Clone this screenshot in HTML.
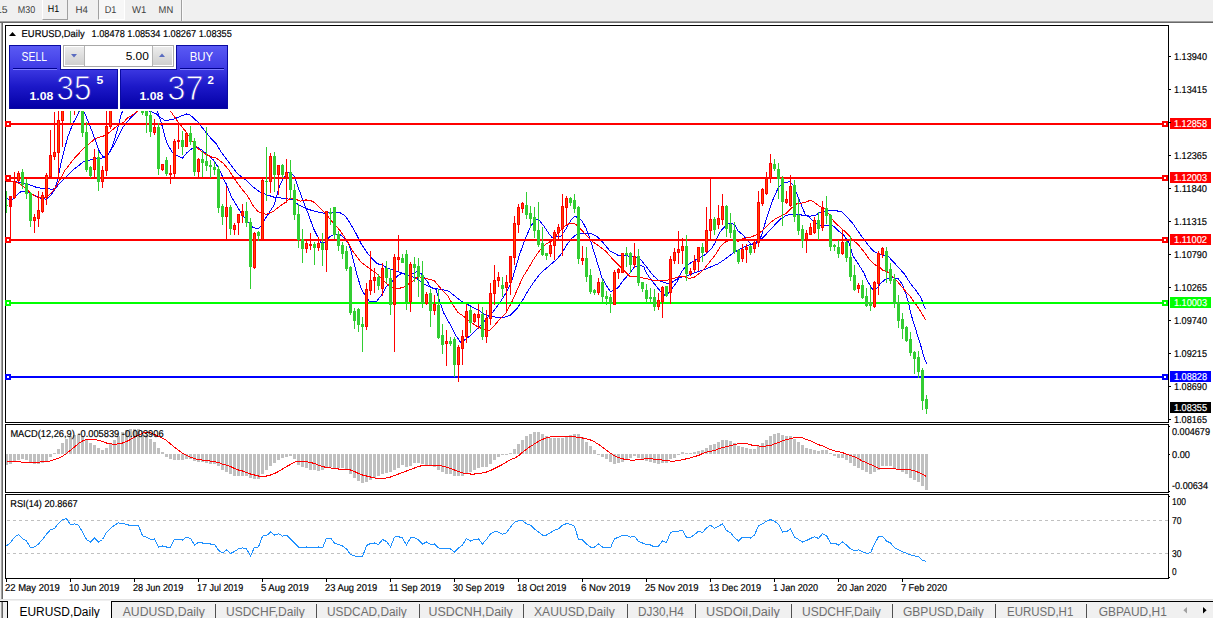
<!DOCTYPE html>
<html><head><meta charset="utf-8"><title>EURUSD,Daily</title>
<style>
html,body{margin:0;padding:0;background:#fff;}
body{width:1213px;height:618px;overflow:hidden;position:relative;font-family:"Liberation Sans",sans-serif;}
.abs{position:absolute;}
.pb{box-sizing:border-box;border-style:solid;border-color:#0a0aa0;}
svg text{font-family:"Liberation Sans",sans-serif;}
.s{font-size:10px;stroke:#000;stroke-width:.18px;}
.w{stroke:#fff;}
.tb{font-size:10px;fill:#404040;stroke:none;}
.tab{font-size:12px;fill:#6e6e6e;stroke:none;}
</style></head>
<body>
<!-- toolbar -->
<div class="abs" style="left:0;top:0;width:1213px;height:21px;background:#f0f0f0;"></div>
<div class="abs" style="left:42px;top:0;width:24px;height:19px;background:#f0f0f0;border-left:1px solid #fff;border-right:1px solid #a0a0a0;border-bottom:1px solid #a0a0a0;"></div>
<div class="abs" style="left:98px;top:0;width:25px;height:19px;background:#f7f7f7;border-left:1px solid #a0a0a0;border-right:1px solid #fff;border-bottom:1px solid #fff;"></div>
<div class="abs" style="left:181px;top:0;width:1px;height:21px;background:#a0a0a0;"></div><div class="abs" style="left:182px;top:0;width:1px;height:21px;background:#fafafa;"></div>
<div class="abs" style="left:0;top:21px;width:1213px;height:1px;background:#a0a0a0;"></div>
<div class="abs" style="left:0;top:22px;width:1213px;height:1px;background:#696969;"></div>
<!-- left edge -->
<div class="abs" style="left:0;top:23px;width:1px;height:577px;background:#f0f0f0;"></div>
<div class="abs" style="left:1px;top:23px;width:1px;height:577px;background:#a0a0a0;"></div>
<div class="abs" style="left:2px;top:23px;width:1px;height:577px;background:#696969;"></div>
<!-- bottom tab bar -->
<div class="abs" style="left:0;top:599px;width:1213px;height:1px;background:#e3e3e3;"></div>
<div class="abs" style="left:0;top:600px;width:1213px;height:18px;background:#f0f0f0;"></div>
<div class="abs" style="left:0;top:601px;width:1213px;height:1px;background:#000;"></div>
<div class="abs" style="left:7px;top:601px;width:103px;height:17px;background:#fff;border-left:1px solid #000;border-right:1px solid #000;"></div>
<div class="abs" style="left:1px;top:602px;width:1px;height:16px;background:#a0a0a0;"></div>
<div class="abs" style="left:2px;top:602px;width:1px;height:16px;background:#696969;"></div>

<svg class="abs" style="left:0;top:0" width="1213" height="618" viewBox="0 0 1213 618">
<g shape-rendering="crispEdges">
<polyline points="5.3,182.0 13.3,181.3 19.9,182.6 25.2,184.0 30.5,185.2 37.2,187.6 43.8,188.6 53.0,189.2 55.7,187.9 60.0,183.0 65.0,178.3 74.3,169.0 83.6,161.7 94.2,159.0 104.8,157.7 110.1,151.8 116.7,139.8 123.4,126.6 130.0,118.6 136.6,112.0 142.0,107.0 146.0,108.0 149.9,111.3 156.5,114.0 160.0,117.3 165.3,120.6 173.3,119.3 179.9,116.6 186.5,114.0 190.5,115.3 198.5,122.6 202.4,127.9 210.4,137.8 215.7,143.1 221.0,151.8 229.0,162.4 236.9,173.0 242.2,177.5 246.2,180.0 252.8,186.6 259.5,191.9 266.1,194.6 274.1,197.2 284.7,198.5 292.6,199.9 297.9,204.5 305.9,208.5 312.5,210.7 320.0,212.5 324.0,213.2 331.9,212.6 339.9,212.6 345.2,215.9 350.5,223.9 355.8,233.1 361.1,243.7 366.4,251.7 371.7,258.3 377.0,263.6 382.3,265.0 387.6,268.3 393.1,270.0 401.0,272.7 409.0,275.3 416.9,278.6 424.9,284.6 432.8,288.6 440.8,289.2 448.8,291.2 455.4,296.5 462.0,301.8 470.0,305.8 477.9,309.8 485.9,315.1 492.5,316.4 497.3,317.6 503.9,317.6 510.5,315.0 517.2,308.3 522.5,300.4 527.8,291.1 533.1,283.1 538.4,275.8 543.7,270.5 549.0,265.9 555.6,260.4 560.9,254.5 566.2,245.8 571.5,238.4 576.8,234.4 583.5,233.1 590.1,233.1 596.7,236.4 603.4,243.0 610.0,251.0 618.0,255.2 624.6,255.8 631.2,256.2 637.8,257.8 642.0,261.0 646.6,267.1 653.3,275.7 658.6,280.4 663.9,282.4 668.5,283.7 673.2,281.7 678.5,277.7 685.1,276.4 690.4,274.4 695.7,272.4 702.3,270.4 710.3,267.1 718.2,263.8 724.9,259.2 732.8,253.2 740.8,248.5 748.8,245.2 756.7,241.9 762.0,238.6 767.3,233.0 772.0,228.0 775.3,224.3 780.6,219.0 785.9,215.6 791.2,214.3 796.5,214.6 802.6,215.1 809.3,216.1 814.6,215.8 819.9,212.5 826.5,210.7 835.8,210.7 841.8,211.8 847.7,217.8 853.0,223.7 858.3,231.7 863.6,239.0 868.6,245.5 872.9,250.6 878.2,253.9 883.5,255.3 888.8,257.0 894.1,262.6 899.4,268.5 904.8,274.5 910.1,283.1 915.4,289.8 920.7,297.1 925.3,309.0" fill="none" stroke="#0000ff" stroke-width="1"/><polyline points="6.0,198.5 12.0,199.8 17.3,194.5 21.2,191.6 25.2,191.2 29.2,192.5 34.5,195.2 38.5,197.2 42.5,198.8 46.4,199.2 50.4,195.9 54.4,189.9 57.0,182.0 59.7,169.3 62.4,157.0 67.7,137.2 73.0,123.3 76.5,117.0 79.6,111.2 81.9,107.5 84.2,112.0 86.5,117.5 88.9,123.0 94.2,137.2 99.5,151.8 103.5,157.0 107.5,155.7 112.8,145.1 116.7,131.9 120.7,116.0 122.7,110.7 130.0,95.0 140.0,88.0 150.0,95.0 157.8,112.0 160.0,118.6 162.7,127.9 166.6,142.5 171.9,151.8 177.2,155.7 182.5,158.1 186.5,153.1 191.2,149.1 197.1,147.1 202.4,150.4 207.7,155.1 213.1,159.7 218.4,167.7 221.0,173.0 223.7,179.6 226.3,184.0 231.6,197.2 239.6,210.5 246.2,219.8 252.8,227.1 258.1,229.1 260.8,226.4 263.4,221.8 268.8,213.1 274.1,205.2 276.7,195.9 279.4,186.6 283.3,178.7 284.7,177.0 288.6,172.3 292.6,174.3 294.5,177.0 297.9,186.6 303.2,201.2 308.5,214.5 313.8,229.1 318.5,238.3 320.8,242.2 324.0,243.1 329.3,237.1 334.6,234.2 339.9,234.5 345.2,238.4 349.4,245.3 353.3,259.9 357.3,275.8 361.3,289.1 365.3,295.7 369.3,301.4 376.5,301.4 381.2,295.5 386.4,286.6 389.0,284.0 392.8,280.8 397.4,276.2 401.9,273.0 404.5,274.0 408.4,275.3 412.2,274.0 416.8,271.4 421.3,273.7 425.2,278.8 427.8,282.0 429.7,286.6 433.0,287.9 436.0,289.2 438.1,296.5 443.4,312.4 450.1,324.4 455.4,335.0 460.7,342.3 466.0,339.0 472.6,333.7 479.3,327.0 485.9,319.1 492.5,312.4 497.0,306.5 501.2,300.4 506.5,292.4 511.9,280.5 515.8,267.2 519.8,253.8 525.1,239.1 530.4,227.1 535.1,219.8 538.4,219.2 543.7,225.8 549.0,233.7 551.6,237.1 555.6,237.1 560.9,236.4 566.2,228.4 571.5,219.2 574.8,216.2 578.2,217.8 582.1,221.1 586.1,228.4 590.1,239.1 594.1,252.3 596.7,260.6 602.0,277.8 607.3,287.1 610.7,291.8 613.3,290.4 618.0,287.8 623.3,280.5 628.6,274.5 633.9,267.8 639.2,264.8 644.0,267.0 645.3,271.1 650.6,279.1 655.9,285.7 661.2,292.3 665.2,295.6 669.2,292.3 673.2,287.0 677.1,281.7 681.1,272.4 685.1,267.1 690.4,263.1 695.7,259.8 701.0,257.2 706.3,253.9 711.6,248.5 715.6,241.9 718.2,235.3 720.9,230.9 726.2,224.9 730.8,222.9 734.8,224.8 738.1,231.0 743.4,235.3 747.4,240.6 751.4,244.6 755.4,243.9 759.4,240.6 762.0,234.0 762.7,230.9 767.3,216.3 772.6,200.4 777.9,188.5 783.2,182.5 789.9,181.8 793.8,185.8 797.8,196.4 800.0,201.9 805.3,214.5 810.6,218.4 815.9,223.7 822.5,225.7 829.2,225.3 833.8,226.1 838.4,231.0 843.7,235.0 849.1,243.0 853.0,255.9 858.3,263.9 863.6,272.5 868.3,282.5 872.9,289.8 876.9,288.4 880.9,283.1 886.2,278.7 891.5,277.4 898.1,278.7 902.1,283.8 906.1,294.4 908.5,303.0 910.8,313.6 915.6,329.1 920.5,344.7 924.3,358.3 926.9,363.7" fill="none" stroke="#0000ff" stroke-width="1"/><polyline points="5.3,182.0 14.6,181.3 19.9,184.0 25.2,187.9 30.5,193.2 35.8,196.5 39.8,197.8 45.1,197.8 49.1,195.2 54.4,189.2 59.7,180.0 65.0,170.3 74.3,158.4 84.9,147.1 95.5,138.5 106.1,135.2 116.7,126.2 123.5,122.4 127.5,118.0 131.0,116.0 136.6,112.0 145.0,105.0 155.0,100.0 163.0,103.0 170.6,111.3 178.6,122.6 186.5,132.5 193.2,142.5 198.5,149.1 205.1,153.8 211.7,157.1 215.7,157.7 223.7,163.7 229.0,170.3 234.3,178.5 240.9,187.9 247.5,195.9 252.8,205.2 258.1,211.8 262.1,212.5 266.1,214.5 272.7,211.8 279.4,206.5 286.0,201.9 290.0,198.5 295.3,199.2 300.6,201.2 305.9,199.9 312.5,201.2 316.0,204.0 320.0,207.8 324.0,211.9 331.9,221.2 339.9,230.5 346.5,239.8 353.1,251.7 361.1,262.3 369.1,268.3 375.7,272.9 379.8,276.7 387.7,284.6 395.7,289.2 403.7,287.2 411.6,281.9 418.2,276.6 426.2,278.6 434.2,280.6 440.8,288.6 447.4,295.2 452.7,304.5 458.0,312.4 464.7,317.1 471.3,322.4 477.9,327.0 483.2,329.0 489.9,330.3 493.3,326.9 499.9,318.9 506.5,312.3 511.9,301.7 517.2,289.8 522.5,277.8 529.1,267.0 534.4,258.0 539.7,250.4 546.3,243.7 551.6,241.0 556.9,234.4 563.6,227.1 568.9,223.8 574.2,223.1 579.5,227.8 586.1,235.1 592.8,241.7 599.4,246.3 606.0,251.5 612.6,259.1 619.3,265.9 624.6,271.2 629.9,276.2 637.8,276.5 642.0,277.8 648.0,279.1 655.9,281.0 663.9,280.4 670.5,279.7 677.1,277.1 683.8,276.4 689.1,278.4 694.4,277.1 699.7,273.1 705.0,267.8 710.3,261.1 715.6,254.5 720.9,245.9 726.2,241.3 732.8,239.9 738.1,241.3 743.4,238.6 750.1,237.3 755.4,235.3 760.7,232.0 765.0,228.2 770.0,222.9 775.3,219.0 780.6,216.3 785.9,213.7 791.2,208.4 796.5,204.0 801.3,203.2 806.6,201.9 810.6,200.1 814.6,202.5 819.9,206.5 825.2,208.5 829.2,214.5 833.1,220.4 838.4,225.7 843.7,230.4 849.1,235.7 853.0,240.3 857.3,243.5 863.6,251.3 870.3,260.6 875.6,265.2 878.2,265.9 882.2,269.9 888.8,272.5 894.1,277.8 899.4,283.8 904.8,290.4 910.1,296.4 915.4,303.7 920.7,311.6 925.7,320.3" fill="none" stroke="#ff0000" stroke-width="1"/>
<rect x="6" y="123" width="1162" height="2" fill="#ff0000"/><rect x="1170" y="118" width="41" height="11" fill="#ff0000"/><rect x="6" y="177" width="1162" height="2" fill="#ff0000"/><rect x="1170" y="172" width="41" height="11" fill="#ff0000"/><rect x="6" y="239" width="1162" height="2" fill="#ff0000"/><rect x="1170" y="234" width="41" height="11" fill="#ff0000"/><rect x="6" y="302" width="1162" height="2" fill="#00ff00"/><rect x="1170" y="297" width="41" height="11" fill="#00ff00"/><rect x="6" y="376" width="1162" height="2" fill="#0000ff"/><rect x="1170" y="371" width="41" height="11" fill="#0000ff"/><rect x="1170" y="402" width="41" height="11" fill="#000"/>
<rect x="6" y="191" width="1" height="22" fill="#32cd32"/><rect x="5" y="205" width="3" height="1" fill="#32cd32"/><rect x="10" y="196" width="1" height="11" fill="#ff0000"/><rect x="9" y="196" width="3" height="11" fill="#ff0000"/><rect x="10" y="197" width="1" height="9" fill="#ff4500"/><rect x="14" y="172" width="1" height="27" fill="#ff0000"/><rect x="13" y="181" width="3" height="17" fill="#ff0000"/><rect x="14" y="182" width="1" height="15" fill="#ff4500"/><rect x="18" y="171" width="1" height="11" fill="#ff0000"/><rect x="17" y="173" width="3" height="8" fill="#ff0000"/><rect x="18" y="174" width="1" height="6" fill="#ff4500"/><rect x="22" y="169" width="1" height="20" fill="#32cd32"/><rect x="21" y="172" width="3" height="13" fill="#32cd32"/><rect x="26" y="179" width="1" height="20" fill="#32cd32"/><rect x="25" y="183" width="3" height="11" fill="#32cd32"/><rect x="30" y="192" width="1" height="35" fill="#32cd32"/><rect x="29" y="193" width="3" height="28" fill="#32cd32"/><rect x="34" y="214" width="1" height="19" fill="#ff0000"/><rect x="33" y="217" width="3" height="4" fill="#ff0000"/><rect x="34" y="218" width="1" height="2" fill="#ff4500"/><rect x="38" y="191" width="1" height="36" fill="#ff0000"/><rect x="37" y="210" width="3" height="9" fill="#ff0000"/><rect x="38" y="211" width="1" height="7" fill="#ff4500"/><rect x="42" y="192" width="1" height="21" fill="#ff0000"/><rect x="41" y="195" width="3" height="17" fill="#ff0000"/><rect x="42" y="196" width="1" height="15" fill="#ff4500"/><rect x="46" y="173" width="1" height="32" fill="#ff0000"/><rect x="45" y="175" width="3" height="23" fill="#ff0000"/><rect x="46" y="176" width="1" height="21" fill="#ff4500"/><rect x="50" y="130" width="1" height="48" fill="#ff0000"/><rect x="49" y="155" width="3" height="22" fill="#ff0000"/><rect x="50" y="156" width="1" height="20" fill="#ff4500"/><rect x="54" y="112" width="1" height="48" fill="#ff0000"/><rect x="53" y="152" width="3" height="5" fill="#ff0000"/><rect x="54" y="153" width="1" height="3" fill="#ff4500"/><rect x="58" y="95" width="1" height="84" fill="#ff0000"/><rect x="57" y="120" width="3" height="33" fill="#ff0000"/><rect x="58" y="121" width="1" height="31" fill="#ff4500"/><rect x="62" y="90" width="1" height="57" fill="#ff0000"/><rect x="61" y="95" width="3" height="26" fill="#ff0000"/><rect x="62" y="96" width="1" height="24" fill="#ff4500"/><rect x="66" y="70" width="1" height="31" fill="#ff0000"/><rect x="65" y="75" width="3" height="21" fill="#ff0000"/><rect x="66" y="76" width="1" height="19" fill="#ff4500"/><rect x="70" y="80" width="1" height="43" fill="#32cd32"/><rect x="69" y="85" width="3" height="16" fill="#32cd32"/><rect x="74" y="85" width="1" height="30" fill="#ff0000"/><rect x="73" y="88" width="3" height="17" fill="#ff0000"/><rect x="74" y="89" width="1" height="15" fill="#ff4500"/><rect x="78" y="80" width="1" height="32" fill="#32cd32"/><rect x="77" y="84" width="3" height="25" fill="#32cd32"/><rect x="82" y="90" width="1" height="47" fill="#32cd32"/><rect x="81" y="95" width="3" height="38" fill="#32cd32"/><rect x="86" y="122" width="1" height="50" fill="#32cd32"/><rect x="85" y="132" width="3" height="38" fill="#32cd32"/><rect x="90" y="166" width="1" height="12" fill="#32cd32"/><rect x="89" y="167" width="3" height="9" fill="#32cd32"/><rect x="94" y="149" width="1" height="29" fill="#ff0000"/><rect x="93" y="157" width="3" height="13" fill="#ff0000"/><rect x="94" y="158" width="1" height="11" fill="#ff4500"/><rect x="98" y="151" width="1" height="40" fill="#32cd32"/><rect x="97" y="157" width="3" height="25" fill="#32cd32"/><rect x="102" y="166" width="1" height="22" fill="#ff0000"/><rect x="101" y="170" width="3" height="12" fill="#ff0000"/><rect x="102" y="171" width="1" height="10" fill="#ff4500"/><rect x="106" y="95" width="1" height="81" fill="#ff0000"/><rect x="105" y="126" width="3" height="45" fill="#ff0000"/><rect x="106" y="127" width="1" height="43" fill="#ff4500"/><rect x="110" y="90" width="1" height="39" fill="#ff0000"/><rect x="109" y="95" width="3" height="32" fill="#ff0000"/><rect x="110" y="96" width="1" height="30" fill="#ff4500"/><rect x="114" y="70" width="1" height="31" fill="#ff0000"/><rect x="113" y="75" width="3" height="21" fill="#ff0000"/><rect x="114" y="76" width="1" height="19" fill="#ff4500"/><rect x="118" y="60" width="1" height="31" fill="#ff0000"/><rect x="117" y="65" width="3" height="16" fill="#ff0000"/><rect x="118" y="66" width="1" height="14" fill="#ff4500"/><rect x="122" y="60" width="1" height="31" fill="#32cd32"/><rect x="121" y="65" width="3" height="21" fill="#32cd32"/><rect x="126" y="60" width="1" height="36" fill="#ff0000"/><rect x="125" y="70" width="3" height="19" fill="#ff0000"/><rect x="126" y="71" width="1" height="17" fill="#ff4500"/><rect x="130" y="65" width="1" height="34" fill="#32cd32"/><rect x="129" y="70" width="3" height="21" fill="#32cd32"/><rect x="134" y="70" width="1" height="31" fill="#32cd32"/><rect x="133" y="80" width="3" height="16" fill="#32cd32"/><rect x="138" y="75" width="1" height="30" fill="#ff0000"/><rect x="137" y="80" width="3" height="21" fill="#ff0000"/><rect x="138" y="81" width="1" height="19" fill="#ff4500"/><rect x="142" y="90" width="1" height="25" fill="#32cd32"/><rect x="141" y="95" width="3" height="18" fill="#32cd32"/><rect x="146" y="92" width="1" height="41" fill="#32cd32"/><rect x="145" y="95" width="3" height="21" fill="#32cd32"/><rect x="150" y="95" width="1" height="42" fill="#32cd32"/><rect x="149" y="115" width="3" height="17" fill="#32cd32"/><rect x="154" y="119" width="1" height="16" fill="#ff0000"/><rect x="153" y="127" width="3" height="6" fill="#ff0000"/><rect x="154" y="128" width="1" height="4" fill="#ff4500"/><rect x="158" y="123" width="1" height="52" fill="#32cd32"/><rect x="157" y="127" width="3" height="42" fill="#32cd32"/><rect x="162" y="164" width="1" height="7" fill="#ff0000"/><rect x="161" y="164" width="3" height="6" fill="#ff0000"/><rect x="162" y="165" width="1" height="4" fill="#ff4500"/><rect x="166" y="157" width="1" height="19" fill="#32cd32"/><rect x="165" y="160" width="3" height="14" fill="#32cd32"/><rect x="170" y="165" width="1" height="19" fill="#ff0000"/><rect x="169" y="173" width="3" height="2" fill="#ff0000"/><rect x="174" y="139" width="1" height="39" fill="#ff0000"/><rect x="173" y="141" width="3" height="33" fill="#ff0000"/><rect x="174" y="142" width="1" height="31" fill="#ff4500"/><rect x="178" y="123" width="1" height="26" fill="#ff0000"/><rect x="177" y="140" width="3" height="2" fill="#ff0000"/><rect x="182" y="131" width="1" height="24" fill="#32cd32"/><rect x="181" y="140" width="3" height="7" fill="#32cd32"/><rect x="186" y="132" width="1" height="15" fill="#ff0000"/><rect x="185" y="133" width="3" height="14" fill="#ff0000"/><rect x="186" y="134" width="1" height="12" fill="#ff4500"/><rect x="190" y="126" width="1" height="19" fill="#32cd32"/><rect x="189" y="133" width="3" height="9" fill="#32cd32"/><rect x="194" y="138" width="1" height="38" fill="#32cd32"/><rect x="193" y="141" width="3" height="31" fill="#32cd32"/><rect x="198" y="158" width="1" height="20" fill="#ff0000"/><rect x="197" y="159" width="3" height="13" fill="#ff0000"/><rect x="198" y="160" width="1" height="11" fill="#ff4500"/><rect x="202" y="151" width="1" height="26" fill="#32cd32"/><rect x="201" y="159" width="3" height="4" fill="#32cd32"/><rect x="206" y="127" width="1" height="44" fill="#32cd32"/><rect x="205" y="161" width="3" height="5" fill="#32cd32"/><rect x="210" y="160" width="1" height="18" fill="#32cd32"/><rect x="209" y="165" width="3" height="2" fill="#32cd32"/><rect x="214" y="162" width="1" height="13" fill="#32cd32"/><rect x="213" y="167" width="3" height="3" fill="#32cd32"/><rect x="218" y="166" width="1" height="47" fill="#32cd32"/><rect x="217" y="169" width="3" height="39" fill="#32cd32"/><rect x="222" y="204" width="1" height="21" fill="#32cd32"/><rect x="221" y="206" width="3" height="11" fill="#32cd32"/><rect x="226" y="186" width="1" height="54" fill="#ff0000"/><rect x="225" y="207" width="3" height="10" fill="#ff0000"/><rect x="226" y="208" width="1" height="8" fill="#ff4500"/><rect x="230" y="205" width="1" height="30" fill="#32cd32"/><rect x="229" y="207" width="3" height="22" fill="#32cd32"/><rect x="234" y="223" width="1" height="12" fill="#ff0000"/><rect x="233" y="225" width="3" height="5" fill="#ff0000"/><rect x="234" y="226" width="1" height="3" fill="#ff4500"/><rect x="238" y="214" width="1" height="21" fill="#ff0000"/><rect x="237" y="214" width="3" height="9" fill="#ff0000"/><rect x="238" y="215" width="1" height="7" fill="#ff4500"/><rect x="242" y="204" width="1" height="19" fill="#ff0000"/><rect x="241" y="211" width="3" height="5" fill="#ff0000"/><rect x="242" y="212" width="1" height="3" fill="#ff4500"/><rect x="246" y="202" width="1" height="25" fill="#32cd32"/><rect x="245" y="211" width="3" height="12" fill="#32cd32"/><rect x="250" y="218" width="1" height="71" fill="#32cd32"/><rect x="249" y="222" width="3" height="45" fill="#32cd32"/><rect x="254" y="232" width="1" height="37" fill="#ff0000"/><rect x="253" y="233" width="3" height="35" fill="#ff0000"/><rect x="254" y="234" width="1" height="33" fill="#ff4500"/><rect x="258" y="231" width="1" height="10" fill="#32cd32"/><rect x="257" y="232" width="3" height="4" fill="#32cd32"/><rect x="262" y="179" width="1" height="62" fill="#ff0000"/><rect x="261" y="180" width="3" height="60" fill="#ff0000"/><rect x="262" y="181" width="1" height="58" fill="#ff4500"/><rect x="266" y="147" width="1" height="54" fill="#32cd32"/><rect x="265" y="181" width="3" height="1" fill="#32cd32"/><rect x="270" y="153" width="1" height="40" fill="#ff0000"/><rect x="269" y="156" width="3" height="26" fill="#ff0000"/><rect x="270" y="157" width="1" height="24" fill="#ff4500"/><rect x="274" y="152" width="1" height="40" fill="#32cd32"/><rect x="273" y="156" width="3" height="19" fill="#32cd32"/><rect x="278" y="165" width="1" height="30" fill="#ff0000"/><rect x="277" y="165" width="3" height="10" fill="#ff0000"/><rect x="278" y="166" width="1" height="8" fill="#ff4500"/><rect x="282" y="164" width="1" height="14" fill="#32cd32"/><rect x="281" y="165" width="3" height="10" fill="#32cd32"/><rect x="286" y="159" width="1" height="44" fill="#ff0000"/><rect x="285" y="172" width="3" height="6" fill="#ff0000"/><rect x="286" y="173" width="1" height="4" fill="#ff4500"/><rect x="290" y="160" width="1" height="39" fill="#32cd32"/><rect x="289" y="172" width="3" height="18" fill="#32cd32"/><rect x="294" y="184" width="1" height="36" fill="#32cd32"/><rect x="293" y="190" width="3" height="25" fill="#32cd32"/><rect x="298" y="204" width="1" height="44" fill="#32cd32"/><rect x="297" y="214" width="3" height="26" fill="#32cd32"/><rect x="302" y="229" width="1" height="34" fill="#32cd32"/><rect x="301" y="239" width="3" height="10" fill="#32cd32"/><rect x="306" y="241" width="1" height="12" fill="#ff0000"/><rect x="305" y="243" width="3" height="6" fill="#ff0000"/><rect x="306" y="244" width="1" height="4" fill="#ff4500"/><rect x="310" y="233" width="1" height="17" fill="#ff0000"/><rect x="309" y="244" width="3" height="2" fill="#ff0000"/><rect x="314" y="242" width="1" height="23" fill="#32cd32"/><rect x="313" y="244" width="3" height="4" fill="#32cd32"/><rect x="318" y="237" width="1" height="14" fill="#ff0000"/><rect x="317" y="243" width="3" height="5" fill="#ff0000"/><rect x="318" y="244" width="1" height="3" fill="#ff4500"/><rect x="322" y="233" width="1" height="33" fill="#32cd32"/><rect x="321" y="243" width="3" height="7" fill="#32cd32"/><rect x="326" y="211" width="1" height="61" fill="#ff0000"/><rect x="325" y="211" width="3" height="39" fill="#ff0000"/><rect x="326" y="212" width="1" height="37" fill="#ff4500"/><rect x="330" y="208" width="1" height="17" fill="#32cd32"/><rect x="329" y="212" width="3" height="2" fill="#32cd32"/><rect x="334" y="207" width="1" height="32" fill="#32cd32"/><rect x="333" y="207" width="3" height="28" fill="#32cd32"/><rect x="338" y="231" width="1" height="20" fill="#32cd32"/><rect x="337" y="234" width="3" height="12" fill="#32cd32"/><rect x="342" y="242" width="1" height="17" fill="#32cd32"/><rect x="341" y="245" width="3" height="9" fill="#32cd32"/><rect x="346" y="246" width="1" height="25" fill="#32cd32"/><rect x="345" y="251" width="3" height="18" fill="#32cd32"/><rect x="350" y="266" width="1" height="49" fill="#32cd32"/><rect x="349" y="267" width="3" height="46" fill="#32cd32"/><rect x="354" y="308" width="1" height="21" fill="#32cd32"/><rect x="353" y="311" width="3" height="10" fill="#32cd32"/><rect x="358" y="308" width="1" height="24" fill="#32cd32"/><rect x="357" y="309" width="3" height="16" fill="#32cd32"/><rect x="362" y="317" width="1" height="35" fill="#32cd32"/><rect x="361" y="324" width="3" height="3" fill="#32cd32"/><rect x="366" y="283" width="1" height="47" fill="#ff0000"/><rect x="365" y="289" width="3" height="38" fill="#ff0000"/><rect x="366" y="290" width="1" height="36" fill="#ff4500"/><rect x="370" y="251" width="1" height="44" fill="#ff0000"/><rect x="369" y="280" width="3" height="11" fill="#ff0000"/><rect x="370" y="281" width="1" height="9" fill="#ff4500"/><rect x="374" y="268" width="1" height="25" fill="#ff0000"/><rect x="373" y="277" width="3" height="4" fill="#ff0000"/><rect x="374" y="278" width="1" height="2" fill="#ff4500"/><rect x="378" y="274" width="1" height="16" fill="#32cd32"/><rect x="377" y="277" width="3" height="9" fill="#32cd32"/><rect x="382" y="263" width="1" height="33" fill="#ff0000"/><rect x="381" y="268" width="3" height="21" fill="#ff0000"/><rect x="382" y="269" width="1" height="19" fill="#ff4500"/><rect x="386" y="261" width="1" height="22" fill="#32cd32"/><rect x="385" y="268" width="3" height="10" fill="#32cd32"/><rect x="390" y="269" width="1" height="46" fill="#32cd32"/><rect x="389" y="278" width="3" height="27" fill="#32cd32"/><rect x="394" y="254" width="1" height="98" fill="#ff0000"/><rect x="393" y="257" width="3" height="48" fill="#ff0000"/><rect x="394" y="258" width="1" height="46" fill="#ff4500"/><rect x="398" y="235" width="1" height="36" fill="#ff0000"/><rect x="397" y="257" width="3" height="3" fill="#ff0000"/><rect x="398" y="258" width="1" height="1" fill="#ff4500"/><rect x="402" y="254" width="1" height="9" fill="#32cd32"/><rect x="401" y="258" width="3" height="5" fill="#32cd32"/><rect x="406" y="250" width="1" height="60" fill="#32cd32"/><rect x="405" y="254" width="3" height="48" fill="#32cd32"/><rect x="410" y="262" width="1" height="50" fill="#ff0000"/><rect x="409" y="264" width="3" height="38" fill="#ff0000"/><rect x="410" y="265" width="1" height="36" fill="#ff4500"/><rect x="414" y="257" width="1" height="25" fill="#32cd32"/><rect x="413" y="264" width="3" height="4" fill="#32cd32"/><rect x="418" y="258" width="1" height="39" fill="#32cd32"/><rect x="417" y="266" width="3" height="11" fill="#32cd32"/><rect x="422" y="261" width="1" height="47" fill="#32cd32"/><rect x="421" y="275" width="3" height="28" fill="#32cd32"/><rect x="426" y="292" width="1" height="13" fill="#ff0000"/><rect x="425" y="294" width="3" height="10" fill="#ff0000"/><rect x="426" y="295" width="1" height="8" fill="#ff4500"/><rect x="430" y="289" width="1" height="38" fill="#32cd32"/><rect x="429" y="293" width="3" height="18" fill="#32cd32"/><rect x="434" y="295" width="1" height="20" fill="#ff0000"/><rect x="433" y="304" width="3" height="7" fill="#ff0000"/><rect x="434" y="305" width="1" height="5" fill="#ff4500"/><rect x="438" y="289" width="1" height="50" fill="#32cd32"/><rect x="437" y="305" width="3" height="33" fill="#32cd32"/><rect x="442" y="324" width="1" height="30" fill="#32cd32"/><rect x="441" y="335" width="3" height="10" fill="#32cd32"/><rect x="446" y="330" width="1" height="36" fill="#ff0000"/><rect x="445" y="341" width="3" height="3" fill="#ff0000"/><rect x="446" y="342" width="1" height="1" fill="#ff4500"/><rect x="450" y="337" width="1" height="9" fill="#32cd32"/><rect x="449" y="341" width="3" height="3" fill="#32cd32"/><rect x="454" y="337" width="1" height="40" fill="#32cd32"/><rect x="453" y="339" width="3" height="26" fill="#32cd32"/><rect x="458" y="345" width="1" height="37" fill="#ff0000"/><rect x="457" y="347" width="3" height="18" fill="#ff0000"/><rect x="458" y="348" width="1" height="16" fill="#ff4500"/><rect x="462" y="330" width="1" height="35" fill="#ff0000"/><rect x="461" y="336" width="3" height="13" fill="#ff0000"/><rect x="462" y="337" width="1" height="11" fill="#ff4500"/><rect x="466" y="304" width="1" height="39" fill="#ff0000"/><rect x="465" y="311" width="3" height="26" fill="#ff0000"/><rect x="466" y="312" width="1" height="24" fill="#ff4500"/><rect x="470" y="307" width="1" height="26" fill="#32cd32"/><rect x="469" y="310" width="3" height="13" fill="#32cd32"/><rect x="474" y="313" width="1" height="10" fill="#ff0000"/><rect x="473" y="314" width="3" height="8" fill="#ff0000"/><rect x="474" y="315" width="1" height="6" fill="#ff4500"/><rect x="478" y="304" width="1" height="25" fill="#ff0000"/><rect x="477" y="314" width="3" height="4" fill="#ff0000"/><rect x="478" y="315" width="1" height="2" fill="#ff4500"/><rect x="482" y="307" width="1" height="33" fill="#32cd32"/><rect x="481" y="314" width="3" height="23" fill="#32cd32"/><rect x="486" y="310" width="1" height="33" fill="#ff0000"/><rect x="485" y="318" width="3" height="19" fill="#ff0000"/><rect x="486" y="319" width="1" height="17" fill="#ff4500"/><rect x="490" y="283" width="1" height="42" fill="#ff0000"/><rect x="489" y="293" width="3" height="26" fill="#ff0000"/><rect x="490" y="294" width="1" height="24" fill="#ff4500"/><rect x="494" y="265" width="1" height="40" fill="#ff0000"/><rect x="493" y="280" width="3" height="14" fill="#ff0000"/><rect x="494" y="281" width="1" height="12" fill="#ff4500"/><rect x="498" y="272" width="1" height="15" fill="#ff0000"/><rect x="497" y="277" width="3" height="4" fill="#ff0000"/><rect x="498" y="278" width="1" height="2" fill="#ff4500"/><rect x="502" y="277" width="1" height="20" fill="#32cd32"/><rect x="501" y="285" width="3" height="4" fill="#32cd32"/><rect x="506" y="275" width="1" height="36" fill="#ff0000"/><rect x="505" y="282" width="3" height="6" fill="#ff0000"/><rect x="506" y="283" width="1" height="4" fill="#ff4500"/><rect x="510" y="256" width="1" height="39" fill="#ff0000"/><rect x="509" y="256" width="3" height="27" fill="#ff0000"/><rect x="510" y="257" width="1" height="25" fill="#ff4500"/><rect x="514" y="216" width="1" height="49" fill="#ff0000"/><rect x="513" y="223" width="3" height="35" fill="#ff0000"/><rect x="514" y="224" width="1" height="33" fill="#ff4500"/><rect x="518" y="204" width="1" height="29" fill="#ff0000"/><rect x="517" y="207" width="3" height="18" fill="#ff0000"/><rect x="518" y="208" width="1" height="16" fill="#ff4500"/><rect x="522" y="202" width="1" height="11" fill="#ff0000"/><rect x="521" y="203" width="3" height="6" fill="#ff0000"/><rect x="522" y="204" width="1" height="4" fill="#ff4500"/><rect x="526" y="192" width="1" height="27" fill="#32cd32"/><rect x="525" y="205" width="3" height="10" fill="#32cd32"/><rect x="530" y="206" width="1" height="22" fill="#32cd32"/><rect x="529" y="213" width="3" height="6" fill="#32cd32"/><rect x="534" y="207" width="1" height="31" fill="#32cd32"/><rect x="533" y="217" width="3" height="14" fill="#32cd32"/><rect x="538" y="202" width="1" height="45" fill="#32cd32"/><rect x="537" y="230" width="3" height="15" fill="#32cd32"/><rect x="542" y="227" width="1" height="29" fill="#32cd32"/><rect x="541" y="243" width="3" height="12" fill="#32cd32"/><rect x="546" y="253" width="1" height="7" fill="#32cd32"/><rect x="545" y="253" width="3" height="3" fill="#32cd32"/><rect x="550" y="239" width="1" height="18" fill="#ff0000"/><rect x="549" y="245" width="3" height="9" fill="#ff0000"/><rect x="550" y="246" width="1" height="7" fill="#ff4500"/><rect x="554" y="230" width="1" height="30" fill="#ff0000"/><rect x="553" y="232" width="3" height="14" fill="#ff0000"/><rect x="554" y="233" width="1" height="12" fill="#ff4500"/><rect x="558" y="224" width="1" height="15" fill="#ff0000"/><rect x="557" y="227" width="3" height="6" fill="#ff0000"/><rect x="558" y="228" width="1" height="4" fill="#ff4500"/><rect x="562" y="194" width="1" height="62" fill="#ff0000"/><rect x="561" y="206" width="3" height="23" fill="#ff0000"/><rect x="562" y="207" width="1" height="21" fill="#ff4500"/><rect x="566" y="196" width="1" height="29" fill="#ff0000"/><rect x="565" y="198" width="3" height="10" fill="#ff0000"/><rect x="566" y="199" width="1" height="8" fill="#ff4500"/><rect x="570" y="197" width="1" height="9" fill="#32cd32"/><rect x="569" y="198" width="3" height="5" fill="#32cd32"/><rect x="574" y="194" width="1" height="19" fill="#32cd32"/><rect x="573" y="200" width="3" height="9" fill="#32cd32"/><rect x="578" y="206" width="1" height="58" fill="#32cd32"/><rect x="577" y="207" width="3" height="52" fill="#32cd32"/><rect x="582" y="246" width="1" height="19" fill="#ff0000"/><rect x="581" y="258" width="3" height="3" fill="#ff0000"/><rect x="582" y="259" width="1" height="1" fill="#ff4500"/><rect x="586" y="247" width="1" height="35" fill="#32cd32"/><rect x="585" y="258" width="3" height="19" fill="#32cd32"/><rect x="590" y="269" width="1" height="25" fill="#32cd32"/><rect x="589" y="275" width="3" height="17" fill="#32cd32"/><rect x="594" y="289" width="1" height="6" fill="#32cd32"/><rect x="593" y="290" width="3" height="3" fill="#32cd32"/><rect x="598" y="278" width="1" height="17" fill="#ff0000"/><rect x="597" y="282" width="3" height="11" fill="#ff0000"/><rect x="598" y="283" width="1" height="9" fill="#ff4500"/><rect x="602" y="279" width="1" height="24" fill="#32cd32"/><rect x="601" y="282" width="3" height="15" fill="#32cd32"/><rect x="606" y="291" width="1" height="14" fill="#32cd32"/><rect x="605" y="296" width="3" height="3" fill="#32cd32"/><rect x="610" y="294" width="1" height="19" fill="#32cd32"/><rect x="609" y="297" width="3" height="6" fill="#32cd32"/><rect x="614" y="270" width="1" height="35" fill="#ff0000"/><rect x="613" y="272" width="3" height="33" fill="#ff0000"/><rect x="614" y="273" width="1" height="31" fill="#ff4500"/><rect x="618" y="268" width="1" height="11" fill="#ff0000"/><rect x="617" y="269" width="3" height="4" fill="#ff0000"/><rect x="618" y="270" width="1" height="2" fill="#ff4500"/><rect x="622" y="253" width="1" height="20" fill="#ff0000"/><rect x="621" y="253" width="3" height="20" fill="#ff0000"/><rect x="622" y="254" width="1" height="18" fill="#ff4500"/><rect x="626" y="247" width="1" height="20" fill="#32cd32"/><rect x="625" y="253" width="3" height="2" fill="#32cd32"/><rect x="630" y="252" width="1" height="21" fill="#32cd32"/><rect x="629" y="253" width="3" height="12" fill="#32cd32"/><rect x="634" y="243" width="1" height="25" fill="#ff0000"/><rect x="633" y="256" width="3" height="9" fill="#ff0000"/><rect x="634" y="257" width="1" height="7" fill="#ff4500"/><rect x="638" y="249" width="1" height="37" fill="#32cd32"/><rect x="637" y="256" width="3" height="27" fill="#32cd32"/><rect x="642" y="282" width="1" height="10" fill="#32cd32"/><rect x="641" y="282" width="3" height="7" fill="#32cd32"/><rect x="646" y="284" width="1" height="19" fill="#32cd32"/><rect x="645" y="290" width="3" height="9" fill="#32cd32"/><rect x="650" y="288" width="1" height="15" fill="#32cd32"/><rect x="649" y="297" width="3" height="2" fill="#32cd32"/><rect x="654" y="289" width="1" height="22" fill="#32cd32"/><rect x="653" y="297" width="3" height="10" fill="#32cd32"/><rect x="658" y="293" width="1" height="17" fill="#ff0000"/><rect x="657" y="300" width="3" height="7" fill="#ff0000"/><rect x="658" y="301" width="1" height="5" fill="#ff4500"/><rect x="662" y="286" width="1" height="32" fill="#ff0000"/><rect x="661" y="287" width="3" height="15" fill="#ff0000"/><rect x="662" y="288" width="1" height="13" fill="#ff4500"/><rect x="666" y="286" width="1" height="11" fill="#32cd32"/><rect x="665" y="286" width="3" height="10" fill="#32cd32"/><rect x="670" y="256" width="1" height="48" fill="#ff0000"/><rect x="669" y="259" width="3" height="34" fill="#ff0000"/><rect x="670" y="260" width="1" height="32" fill="#ff4500"/><rect x="674" y="248" width="1" height="16" fill="#ff0000"/><rect x="673" y="252" width="3" height="9" fill="#ff0000"/><rect x="674" y="253" width="1" height="7" fill="#ff4500"/><rect x="678" y="231" width="1" height="33" fill="#ff0000"/><rect x="677" y="249" width="3" height="4" fill="#ff0000"/><rect x="678" y="250" width="1" height="2" fill="#ff4500"/><rect x="682" y="238" width="1" height="26" fill="#ff0000"/><rect x="681" y="246" width="3" height="5" fill="#ff0000"/><rect x="682" y="247" width="1" height="3" fill="#ff4500"/><rect x="686" y="235" width="1" height="46" fill="#32cd32"/><rect x="685" y="246" width="3" height="28" fill="#32cd32"/><rect x="690" y="268" width="1" height="8" fill="#ff0000"/><rect x="689" y="271" width="3" height="3" fill="#ff0000"/><rect x="690" y="272" width="1" height="1" fill="#ff4500"/><rect x="694" y="255" width="1" height="17" fill="#ff0000"/><rect x="693" y="261" width="3" height="9" fill="#ff0000"/><rect x="694" y="262" width="1" height="7" fill="#ff4500"/><rect x="698" y="247" width="1" height="24" fill="#ff0000"/><rect x="697" y="247" width="3" height="15" fill="#ff0000"/><rect x="698" y="248" width="1" height="13" fill="#ff4500"/><rect x="702" y="243" width="1" height="19" fill="#32cd32"/><rect x="701" y="247" width="3" height="6" fill="#32cd32"/><rect x="706" y="207" width="1" height="46" fill="#ff0000"/><rect x="705" y="230" width="3" height="22" fill="#ff0000"/><rect x="706" y="231" width="1" height="20" fill="#ff4500"/><rect x="710" y="179" width="1" height="61" fill="#ff0000"/><rect x="709" y="219" width="3" height="12" fill="#ff0000"/><rect x="710" y="220" width="1" height="10" fill="#ff4500"/><rect x="714" y="217" width="1" height="18" fill="#32cd32"/><rect x="713" y="219" width="3" height="11" fill="#32cd32"/><rect x="718" y="205" width="1" height="24" fill="#ff0000"/><rect x="717" y="218" width="3" height="7" fill="#ff0000"/><rect x="718" y="219" width="1" height="5" fill="#ff4500"/><rect x="722" y="194" width="1" height="31" fill="#ff0000"/><rect x="721" y="206" width="3" height="14" fill="#ff0000"/><rect x="722" y="207" width="1" height="12" fill="#ff4500"/><rect x="726" y="205" width="1" height="32" fill="#32cd32"/><rect x="725" y="206" width="3" height="23" fill="#32cd32"/><rect x="730" y="213" width="1" height="25" fill="#32cd32"/><rect x="729" y="224" width="3" height="9" fill="#32cd32"/><rect x="734" y="222" width="1" height="32" fill="#32cd32"/><rect x="733" y="230" width="3" height="22" fill="#32cd32"/><rect x="738" y="249" width="1" height="15" fill="#32cd32"/><rect x="737" y="250" width="3" height="12" fill="#32cd32"/><rect x="742" y="244" width="1" height="18" fill="#ff0000"/><rect x="741" y="249" width="3" height="10" fill="#ff0000"/><rect x="742" y="250" width="1" height="8" fill="#ff4500"/><rect x="746" y="244" width="1" height="19" fill="#ff0000"/><rect x="745" y="247" width="3" height="3" fill="#ff0000"/><rect x="746" y="248" width="1" height="1" fill="#ff4500"/><rect x="750" y="245" width="1" height="10" fill="#32cd32"/><rect x="749" y="246" width="3" height="7" fill="#32cd32"/><rect x="754" y="241" width="1" height="12" fill="#ff0000"/><rect x="753" y="242" width="3" height="7" fill="#ff0000"/><rect x="754" y="243" width="1" height="5" fill="#ff4500"/><rect x="758" y="191" width="1" height="56" fill="#ff0000"/><rect x="757" y="202" width="3" height="41" fill="#ff0000"/><rect x="758" y="203" width="1" height="39" fill="#ff4500"/><rect x="762" y="188" width="1" height="18" fill="#ff0000"/><rect x="761" y="189" width="3" height="15" fill="#ff0000"/><rect x="762" y="190" width="1" height="13" fill="#ff4500"/><rect x="766" y="172" width="1" height="23" fill="#ff0000"/><rect x="765" y="178" width="3" height="16" fill="#ff0000"/><rect x="766" y="179" width="1" height="14" fill="#ff4500"/><rect x="770" y="154" width="1" height="29" fill="#ff0000"/><rect x="769" y="163" width="3" height="16" fill="#ff0000"/><rect x="770" y="164" width="1" height="14" fill="#ff4500"/><rect x="774" y="159" width="1" height="12" fill="#32cd32"/><rect x="773" y="164" width="3" height="5" fill="#32cd32"/><rect x="778" y="163" width="1" height="36" fill="#32cd32"/><rect x="777" y="169" width="3" height="10" fill="#32cd32"/><rect x="782" y="176" width="1" height="50" fill="#32cd32"/><rect x="781" y="178" width="3" height="24" fill="#32cd32"/><rect x="786" y="191" width="1" height="13" fill="#ff0000"/><rect x="785" y="199" width="3" height="4" fill="#ff0000"/><rect x="786" y="200" width="1" height="2" fill="#ff4500"/><rect x="790" y="175" width="1" height="32" fill="#ff0000"/><rect x="789" y="186" width="3" height="20" fill="#ff0000"/><rect x="790" y="187" width="1" height="18" fill="#ff4500"/><rect x="794" y="180" width="1" height="42" fill="#32cd32"/><rect x="793" y="185" width="3" height="32" fill="#32cd32"/><rect x="798" y="199" width="1" height="36" fill="#32cd32"/><rect x="797" y="215" width="3" height="16" fill="#32cd32"/><rect x="802" y="225" width="1" height="23" fill="#32cd32"/><rect x="801" y="229" width="3" height="12" fill="#32cd32"/><rect x="806" y="230" width="1" height="23" fill="#ff0000"/><rect x="805" y="233" width="3" height="7" fill="#ff0000"/><rect x="806" y="234" width="1" height="5" fill="#ff4500"/><rect x="810" y="223" width="1" height="12" fill="#ff0000"/><rect x="809" y="227" width="3" height="8" fill="#ff0000"/><rect x="810" y="228" width="1" height="6" fill="#ff4500"/><rect x="814" y="217" width="1" height="17" fill="#ff0000"/><rect x="813" y="220" width="3" height="13" fill="#ff0000"/><rect x="814" y="221" width="1" height="11" fill="#ff4500"/><rect x="818" y="212" width="1" height="28" fill="#32cd32"/><rect x="817" y="220" width="3" height="9" fill="#32cd32"/><rect x="822" y="201" width="1" height="30" fill="#ff0000"/><rect x="821" y="208" width="3" height="20" fill="#ff0000"/><rect x="822" y="209" width="1" height="18" fill="#ff4500"/><rect x="826" y="196" width="1" height="28" fill="#32cd32"/><rect x="825" y="208" width="3" height="8" fill="#32cd32"/><rect x="830" y="214" width="1" height="37" fill="#32cd32"/><rect x="829" y="215" width="3" height="32" fill="#32cd32"/><rect x="834" y="244" width="1" height="7" fill="#32cd32"/><rect x="833" y="245" width="3" height="2" fill="#32cd32"/><rect x="838" y="240" width="1" height="18" fill="#32cd32"/><rect x="837" y="247" width="3" height="7" fill="#32cd32"/><rect x="842" y="230" width="1" height="25" fill="#ff0000"/><rect x="841" y="242" width="3" height="12" fill="#ff0000"/><rect x="842" y="243" width="1" height="10" fill="#ff4500"/><rect x="846" y="241" width="1" height="21" fill="#32cd32"/><rect x="845" y="242" width="3" height="16" fill="#32cd32"/><rect x="850" y="236" width="1" height="45" fill="#32cd32"/><rect x="849" y="257" width="3" height="20" fill="#32cd32"/><rect x="854" y="265" width="1" height="26" fill="#32cd32"/><rect x="853" y="275" width="3" height="15" fill="#32cd32"/><rect x="858" y="283" width="1" height="10" fill="#ff0000"/><rect x="857" y="285" width="3" height="4" fill="#ff0000"/><rect x="858" y="286" width="1" height="2" fill="#ff4500"/><rect x="862" y="280" width="1" height="19" fill="#32cd32"/><rect x="861" y="285" width="3" height="13" fill="#32cd32"/><rect x="866" y="288" width="1" height="19" fill="#32cd32"/><rect x="865" y="296" width="3" height="10" fill="#32cd32"/><rect x="870" y="287" width="1" height="24" fill="#32cd32"/><rect x="869" y="302" width="3" height="4" fill="#32cd32"/><rect x="874" y="281" width="1" height="27" fill="#ff0000"/><rect x="873" y="282" width="3" height="25" fill="#ff0000"/><rect x="874" y="283" width="1" height="23" fill="#ff4500"/><rect x="878" y="251" width="1" height="44" fill="#ff0000"/><rect x="877" y="253" width="3" height="31" fill="#ff0000"/><rect x="878" y="254" width="1" height="29" fill="#ff4500"/><rect x="882" y="247" width="1" height="11" fill="#ff0000"/><rect x="881" y="248" width="3" height="7" fill="#ff0000"/><rect x="882" y="249" width="1" height="5" fill="#ff4500"/><rect x="886" y="247" width="1" height="36" fill="#32cd32"/><rect x="885" y="251" width="3" height="20" fill="#32cd32"/><rect x="890" y="263" width="1" height="21" fill="#32cd32"/><rect x="889" y="269" width="3" height="12" fill="#32cd32"/><rect x="894" y="274" width="1" height="34" fill="#32cd32"/><rect x="893" y="279" width="3" height="25" fill="#32cd32"/><rect x="898" y="295" width="1" height="33" fill="#32cd32"/><rect x="897" y="302" width="3" height="19" fill="#32cd32"/><rect x="902" y="313" width="1" height="26" fill="#32cd32"/><rect x="901" y="319" width="3" height="10" fill="#32cd32"/><rect x="906" y="326" width="1" height="16" fill="#32cd32"/><rect x="905" y="327" width="3" height="14" fill="#32cd32"/><rect x="910" y="332" width="1" height="24" fill="#32cd32"/><rect x="909" y="339" width="3" height="14" fill="#32cd32"/><rect x="914" y="351" width="1" height="23" fill="#32cd32"/><rect x="913" y="352" width="3" height="7" fill="#32cd32"/><rect x="918" y="351" width="1" height="27" fill="#32cd32"/><rect x="917" y="357" width="3" height="15" fill="#32cd32"/><rect x="922" y="368" width="1" height="42" fill="#32cd32"/><rect x="921" y="370" width="3" height="31" fill="#32cd32"/><rect x="926" y="395" width="1" height="19" fill="#32cd32"/><rect x="925" y="399" width="3" height="10" fill="#32cd32"/><rect x="10" y="196" width="1" height="45" fill="#ff0000"/>
<rect x="5" y="454" width="3" height="11" fill="#c0c0c0"/><rect x="9" y="454" width="3" height="10" fill="#c0c0c0"/><rect x="13" y="454" width="3" height="8" fill="#c0c0c0"/><rect x="17" y="454" width="3" height="6" fill="#c0c0c0"/><rect x="21" y="454" width="3" height="5" fill="#c0c0c0"/><rect x="25" y="454" width="3" height="6" fill="#c0c0c0"/><rect x="29" y="454" width="3" height="8" fill="#c0c0c0"/><rect x="33" y="454" width="3" height="10" fill="#c0c0c0"/><rect x="37" y="454" width="3" height="10" fill="#c0c0c0"/><rect x="41" y="454" width="3" height="9" fill="#c0c0c0"/><rect x="45" y="454" width="3" height="7" fill="#c0c0c0"/><rect x="49" y="454" width="3" height="3" fill="#c0c0c0"/><rect x="53" y="453" width="3" height="1" fill="#c0c0c0"/><rect x="57" y="449" width="3" height="5" fill="#c0c0c0"/><rect x="61" y="443" width="3" height="11" fill="#c0c0c0"/><rect x="65" y="439" width="3" height="15" fill="#c0c0c0"/><rect x="69" y="436" width="3" height="18" fill="#c0c0c0"/><rect x="73" y="435" width="3" height="19" fill="#c0c0c0"/><rect x="77" y="435" width="3" height="19" fill="#c0c0c0"/><rect x="81" y="436" width="3" height="18" fill="#c0c0c0"/><rect x="85" y="439" width="3" height="15" fill="#c0c0c0"/><rect x="89" y="443" width="3" height="11" fill="#c0c0c0"/><rect x="93" y="445" width="3" height="9" fill="#c0c0c0"/><rect x="97" y="448" width="3" height="6" fill="#c0c0c0"/><rect x="101" y="450" width="3" height="4" fill="#c0c0c0"/><rect x="105" y="448" width="3" height="6" fill="#c0c0c0"/><rect x="109" y="444" width="3" height="10" fill="#c0c0c0"/><rect x="113" y="440" width="3" height="14" fill="#c0c0c0"/><rect x="117" y="436" width="3" height="18" fill="#c0c0c0"/><rect x="121" y="432" width="3" height="22" fill="#c0c0c0"/><rect x="125" y="430" width="3" height="24" fill="#c0c0c0"/><rect x="129" y="429" width="3" height="25" fill="#c0c0c0"/><rect x="133" y="429" width="3" height="25" fill="#c0c0c0"/><rect x="137" y="429" width="3" height="25" fill="#c0c0c0"/><rect x="141" y="431" width="3" height="23" fill="#c0c0c0"/><rect x="145" y="435" width="3" height="19" fill="#c0c0c0"/><rect x="149" y="439" width="3" height="15" fill="#c0c0c0"/><rect x="153" y="442" width="3" height="12" fill="#c0c0c0"/><rect x="157" y="448" width="3" height="6" fill="#c0c0c0"/><rect x="161" y="452" width="3" height="2" fill="#c0c0c0"/><rect x="165" y="454" width="3" height="3" fill="#c0c0c0"/><rect x="169" y="454" width="3" height="5" fill="#c0c0c0"/><rect x="173" y="454" width="3" height="6" fill="#c0c0c0"/><rect x="177" y="454" width="3" height="6" fill="#c0c0c0"/><rect x="181" y="454" width="3" height="6" fill="#c0c0c0"/><rect x="185" y="454" width="3" height="5" fill="#c0c0c0"/><rect x="189" y="454" width="3" height="5" fill="#c0c0c0"/><rect x="193" y="454" width="3" height="7" fill="#c0c0c0"/><rect x="197" y="454" width="3" height="8" fill="#c0c0c0"/><rect x="201" y="454" width="3" height="8" fill="#c0c0c0"/><rect x="205" y="454" width="3" height="9" fill="#c0c0c0"/><rect x="209" y="454" width="3" height="10" fill="#c0c0c0"/><rect x="213" y="454" width="3" height="10" fill="#c0c0c0"/><rect x="217" y="454" width="3" height="12" fill="#c0c0c0"/><rect x="221" y="454" width="3" height="16" fill="#c0c0c0"/><rect x="225" y="454" width="3" height="18" fill="#c0c0c0"/><rect x="229" y="454" width="3" height="20" fill="#c0c0c0"/><rect x="233" y="454" width="3" height="22" fill="#c0c0c0"/><rect x="237" y="454" width="3" height="22" fill="#c0c0c0"/><rect x="241" y="454" width="3" height="22" fill="#c0c0c0"/><rect x="245" y="454" width="3" height="22" fill="#c0c0c0"/><rect x="249" y="454" width="3" height="24" fill="#c0c0c0"/><rect x="253" y="454" width="3" height="25" fill="#c0c0c0"/><rect x="257" y="454" width="3" height="25" fill="#c0c0c0"/><rect x="261" y="454" width="3" height="20" fill="#c0c0c0"/><rect x="265" y="454" width="3" height="16" fill="#c0c0c0"/><rect x="269" y="454" width="3" height="12" fill="#c0c0c0"/><rect x="273" y="454" width="3" height="9" fill="#c0c0c0"/><rect x="277" y="454" width="3" height="6" fill="#c0c0c0"/><rect x="281" y="454" width="3" height="4" fill="#c0c0c0"/><rect x="285" y="454" width="3" height="3" fill="#c0c0c0"/><rect x="289" y="454" width="3" height="2" fill="#c0c0c0"/><rect x="293" y="454" width="3" height="5" fill="#c0c0c0"/><rect x="297" y="454" width="3" height="11" fill="#c0c0c0"/><rect x="301" y="454" width="3" height="13" fill="#c0c0c0"/><rect x="305" y="454" width="3" height="14" fill="#c0c0c0"/><rect x="309" y="454" width="3" height="16" fill="#c0c0c0"/><rect x="313" y="454" width="3" height="16" fill="#c0c0c0"/><rect x="317" y="454" width="3" height="17" fill="#c0c0c0"/><rect x="321" y="454" width="3" height="16" fill="#c0c0c0"/><rect x="325" y="454" width="3" height="14" fill="#c0c0c0"/><rect x="329" y="454" width="3" height="13" fill="#c0c0c0"/><rect x="333" y="454" width="3" height="14" fill="#c0c0c0"/><rect x="337" y="454" width="3" height="14" fill="#c0c0c0"/><rect x="341" y="454" width="3" height="14" fill="#c0c0c0"/><rect x="345" y="454" width="3" height="16" fill="#c0c0c0"/><rect x="349" y="454" width="3" height="20" fill="#c0c0c0"/><rect x="353" y="454" width="3" height="24" fill="#c0c0c0"/><rect x="357" y="454" width="3" height="27" fill="#c0c0c0"/><rect x="361" y="454" width="3" height="29" fill="#c0c0c0"/><rect x="365" y="454" width="3" height="28" fill="#c0c0c0"/><rect x="369" y="454" width="3" height="26" fill="#c0c0c0"/><rect x="373" y="454" width="3" height="24" fill="#c0c0c0"/><rect x="377" y="454" width="3" height="22" fill="#c0c0c0"/><rect x="381" y="454" width="3" height="20" fill="#c0c0c0"/><rect x="385" y="454" width="3" height="19" fill="#c0c0c0"/><rect x="389" y="454" width="3" height="18" fill="#c0c0c0"/><rect x="393" y="454" width="3" height="16" fill="#c0c0c0"/><rect x="397" y="454" width="3" height="14" fill="#c0c0c0"/><rect x="401" y="454" width="3" height="11" fill="#c0c0c0"/><rect x="405" y="454" width="3" height="13" fill="#c0c0c0"/><rect x="409" y="454" width="3" height="12" fill="#c0c0c0"/><rect x="413" y="454" width="3" height="9" fill="#c0c0c0"/><rect x="417" y="454" width="3" height="9" fill="#c0c0c0"/><rect x="421" y="454" width="3" height="10" fill="#c0c0c0"/><rect x="425" y="454" width="3" height="11" fill="#c0c0c0"/><rect x="429" y="454" width="3" height="12" fill="#c0c0c0"/><rect x="433" y="454" width="3" height="13" fill="#c0c0c0"/><rect x="437" y="454" width="3" height="16" fill="#c0c0c0"/><rect x="441" y="454" width="3" height="18" fill="#c0c0c0"/><rect x="445" y="454" width="3" height="20" fill="#c0c0c0"/><rect x="449" y="454" width="3" height="20" fill="#c0c0c0"/><rect x="453" y="454" width="3" height="22" fill="#c0c0c0"/><rect x="457" y="454" width="3" height="22" fill="#c0c0c0"/><rect x="461" y="454" width="3" height="22" fill="#c0c0c0"/><rect x="465" y="454" width="3" height="20" fill="#c0c0c0"/><rect x="469" y="454" width="3" height="18" fill="#c0c0c0"/><rect x="473" y="454" width="3" height="16" fill="#c0c0c0"/><rect x="477" y="454" width="3" height="14" fill="#c0c0c0"/><rect x="481" y="454" width="3" height="13" fill="#c0c0c0"/><rect x="485" y="454" width="3" height="13" fill="#c0c0c0"/><rect x="489" y="454" width="3" height="10" fill="#c0c0c0"/><rect x="493" y="454" width="3" height="6" fill="#c0c0c0"/><rect x="497" y="454" width="3" height="3" fill="#c0c0c0"/><rect x="501" y="454" width="3" height="1" fill="#c0c0c0"/><rect x="505" y="454" width="3" height="1" fill="#c0c0c0"/><rect x="509" y="453" width="3" height="1" fill="#c0c0c0"/><rect x="513" y="449" width="3" height="5" fill="#c0c0c0"/><rect x="517" y="444" width="3" height="10" fill="#c0c0c0"/><rect x="521" y="440" width="3" height="14" fill="#c0c0c0"/><rect x="525" y="436" width="3" height="18" fill="#c0c0c0"/><rect x="529" y="434" width="3" height="20" fill="#c0c0c0"/><rect x="533" y="432" width="3" height="22" fill="#c0c0c0"/><rect x="537" y="432" width="3" height="22" fill="#c0c0c0"/><rect x="541" y="434" width="3" height="20" fill="#c0c0c0"/><rect x="545" y="436" width="3" height="18" fill="#c0c0c0"/><rect x="549" y="438" width="3" height="16" fill="#c0c0c0"/><rect x="553" y="438" width="3" height="16" fill="#c0c0c0"/><rect x="557" y="438" width="3" height="16" fill="#c0c0c0"/><rect x="561" y="438" width="3" height="16" fill="#c0c0c0"/><rect x="565" y="436" width="3" height="18" fill="#c0c0c0"/><rect x="569" y="435" width="3" height="19" fill="#c0c0c0"/><rect x="573" y="434" width="3" height="20" fill="#c0c0c0"/><rect x="577" y="434" width="3" height="20" fill="#c0c0c0"/><rect x="581" y="437" width="3" height="17" fill="#c0c0c0"/><rect x="585" y="442" width="3" height="12" fill="#c0c0c0"/><rect x="589" y="446" width="3" height="8" fill="#c0c0c0"/><rect x="593" y="450" width="3" height="4" fill="#c0c0c0"/><rect x="597" y="454" width="3" height="1" fill="#c0c0c0"/><rect x="601" y="454" width="3" height="3" fill="#c0c0c0"/><rect x="605" y="454" width="3" height="5" fill="#c0c0c0"/><rect x="609" y="454" width="3" height="8" fill="#c0c0c0"/><rect x="613" y="454" width="3" height="10" fill="#c0c0c0"/><rect x="617" y="454" width="3" height="9" fill="#c0c0c0"/><rect x="621" y="454" width="3" height="8" fill="#c0c0c0"/><rect x="625" y="454" width="3" height="6" fill="#c0c0c0"/><rect x="629" y="454" width="3" height="4" fill="#c0c0c0"/><rect x="633" y="454" width="3" height="2" fill="#c0c0c0"/><rect x="637" y="454" width="3" height="4" fill="#c0c0c0"/><rect x="641" y="454" width="3" height="5" fill="#c0c0c0"/><rect x="645" y="454" width="3" height="7" fill="#c0c0c0"/><rect x="649" y="454" width="3" height="8" fill="#c0c0c0"/><rect x="653" y="454" width="3" height="9" fill="#c0c0c0"/><rect x="657" y="454" width="3" height="10" fill="#c0c0c0"/><rect x="661" y="454" width="3" height="9" fill="#c0c0c0"/><rect x="665" y="454" width="3" height="9" fill="#c0c0c0"/><rect x="669" y="454" width="3" height="5" fill="#c0c0c0"/><rect x="673" y="454" width="3" height="4" fill="#c0c0c0"/><rect x="677" y="454" width="3" height="1" fill="#c0c0c0"/><rect x="681" y="452" width="3" height="2" fill="#c0c0c0"/><rect x="685" y="453" width="3" height="1" fill="#c0c0c0"/><rect x="689" y="453" width="3" height="1" fill="#c0c0c0"/><rect x="693" y="452" width="3" height="2" fill="#c0c0c0"/><rect x="697" y="451" width="3" height="3" fill="#c0c0c0"/><rect x="701" y="450" width="3" height="4" fill="#c0c0c0"/><rect x="705" y="448" width="3" height="6" fill="#c0c0c0"/><rect x="709" y="445" width="3" height="9" fill="#c0c0c0"/><rect x="713" y="444" width="3" height="10" fill="#c0c0c0"/><rect x="717" y="442" width="3" height="12" fill="#c0c0c0"/><rect x="721" y="440" width="3" height="14" fill="#c0c0c0"/><rect x="725" y="440" width="3" height="14" fill="#c0c0c0"/><rect x="729" y="441" width="3" height="13" fill="#c0c0c0"/><rect x="733" y="443" width="3" height="11" fill="#c0c0c0"/><rect x="737" y="446" width="3" height="8" fill="#c0c0c0"/><rect x="741" y="447" width="3" height="7" fill="#c0c0c0"/><rect x="745" y="448" width="3" height="6" fill="#c0c0c0"/><rect x="749" y="449" width="3" height="5" fill="#c0c0c0"/><rect x="753" y="449" width="3" height="5" fill="#c0c0c0"/><rect x="757" y="446" width="3" height="8" fill="#c0c0c0"/><rect x="761" y="443" width="3" height="11" fill="#c0c0c0"/><rect x="765" y="440" width="3" height="14" fill="#c0c0c0"/><rect x="769" y="436" width="3" height="18" fill="#c0c0c0"/><rect x="773" y="434" width="3" height="20" fill="#c0c0c0"/><rect x="777" y="433" width="3" height="21" fill="#c0c0c0"/><rect x="781" y="435" width="3" height="19" fill="#c0c0c0"/><rect x="785" y="436" width="3" height="18" fill="#c0c0c0"/><rect x="789" y="436" width="3" height="18" fill="#c0c0c0"/><rect x="793" y="439" width="3" height="15" fill="#c0c0c0"/><rect x="797" y="442" width="3" height="12" fill="#c0c0c0"/><rect x="801" y="445" width="3" height="9" fill="#c0c0c0"/><rect x="805" y="448" width="3" height="6" fill="#c0c0c0"/><rect x="809" y="449" width="3" height="5" fill="#c0c0c0"/><rect x="813" y="450" width="3" height="4" fill="#c0c0c0"/><rect x="817" y="451" width="3" height="3" fill="#c0c0c0"/><rect x="821" y="450" width="3" height="4" fill="#c0c0c0"/><rect x="825" y="450" width="3" height="4" fill="#c0c0c0"/><rect x="829" y="453" width="3" height="1" fill="#c0c0c0"/><rect x="833" y="454" width="3" height="2" fill="#c0c0c0"/><rect x="837" y="454" width="3" height="4" fill="#c0c0c0"/><rect x="841" y="454" width="3" height="4" fill="#c0c0c0"/><rect x="845" y="454" width="3" height="6" fill="#c0c0c0"/><rect x="849" y="454" width="3" height="9" fill="#c0c0c0"/><rect x="853" y="454" width="3" height="12" fill="#c0c0c0"/><rect x="857" y="454" width="3" height="14" fill="#c0c0c0"/><rect x="861" y="454" width="3" height="16" fill="#c0c0c0"/><rect x="865" y="454" width="3" height="18" fill="#c0c0c0"/><rect x="869" y="454" width="3" height="20" fill="#c0c0c0"/><rect x="873" y="454" width="3" height="18" fill="#c0c0c0"/><rect x="877" y="454" width="3" height="16" fill="#c0c0c0"/><rect x="881" y="454" width="3" height="12" fill="#c0c0c0"/><rect x="885" y="454" width="3" height="12" fill="#c0c0c0"/><rect x="889" y="454" width="3" height="12" fill="#c0c0c0"/><rect x="893" y="454" width="3" height="14" fill="#c0c0c0"/><rect x="897" y="454" width="3" height="16" fill="#c0c0c0"/><rect x="901" y="454" width="3" height="18" fill="#c0c0c0"/><rect x="905" y="454" width="3" height="20" fill="#c0c0c0"/><rect x="909" y="454" width="3" height="24" fill="#c0c0c0"/><rect x="913" y="454" width="3" height="26" fill="#c0c0c0"/><rect x="917" y="454" width="3" height="28" fill="#c0c0c0"/><rect x="921" y="454" width="3" height="32" fill="#c0c0c0"/><rect x="925" y="454" width="3" height="36" fill="#c0c0c0"/><polyline points="6.5,461.0 10.5,461.2 14.5,461.5 18.5,461.8 22.5,462.1 26.5,462.1 30.5,462.1 34.5,462.5 38.5,462.2 42.5,461.8 46.5,461.5 50.5,461.0 54.5,459.5 58.5,458.1 62.5,456.2 66.5,453.5 70.5,450.2 74.5,446.9 78.5,443.5 82.5,441.0 86.5,439.5 90.5,439.5 94.5,439.5 98.5,440.3 102.5,441.5 106.5,443.0 110.5,443.9 114.5,444.3 118.5,443.9 122.5,443.0 126.5,441.5 130.5,439.5 134.5,437.0 138.5,435.1 142.5,433.1 146.5,432.5 150.5,432.8 154.5,434.5 158.5,436.5 162.5,438.2 166.5,440.5 170.5,443.9 174.5,447.3 178.5,450.2 182.5,453.2 186.5,455.2 190.5,457.2 194.5,458.5 198.5,459.7 202.5,460.1 206.5,460.5 210.5,461.1 214.5,461.7 218.5,462.5 222.5,464.1 226.5,465.1 230.5,466.5 234.5,468.5 238.5,470.0 242.5,471.0 246.5,472.5 250.5,474.0 254.5,475.0 258.5,476.0 262.5,477.0 266.5,476.0 270.5,475.0 274.5,473.5 278.5,471.5 282.5,469.0 286.5,466.5 290.5,464.5 294.5,462.1 298.5,461.1 302.5,461.1 306.5,461.7 310.5,462.5 314.5,463.5 318.5,465.1 322.5,466.5 326.5,467.5 330.5,468.0 334.5,468.5 338.5,469.0 342.5,469.0 346.5,469.0 350.5,470.0 354.5,471.5 358.5,473.5 362.5,475.0 366.5,476.0 370.5,477.0 374.5,477.9 378.5,478.9 382.5,478.9 386.5,477.9 390.5,477.0 394.5,475.5 398.5,474.0 402.5,472.5 406.5,471.0 410.5,469.5 414.5,468.0 418.5,466.5 422.5,465.5 426.5,465.1 430.5,465.1 434.5,465.1 438.5,465.5 442.5,466.1 446.5,467.1 450.5,468.5 454.5,470.0 458.5,471.5 462.5,473.0 466.5,473.5 470.5,474.0 474.5,474.0 478.5,473.5 482.5,473.0 486.5,472.0 490.5,470.5 494.5,468.5 498.5,466.5 502.5,464.5 506.5,462.1 510.5,459.7 514.5,458.2 518.5,455.8 522.5,452.2 526.5,449.3 530.5,446.3 534.5,443.9 538.5,441.3 542.5,439.4 546.5,437.8 550.5,436.8 554.5,436.0 558.5,436.0 562.5,436.0 566.5,436.4 570.5,436.8 574.5,436.8 578.5,437.4 582.5,438.0 586.5,438.8 590.5,440.0 594.5,441.9 598.5,444.3 602.5,447.3 606.5,450.2 610.5,453.2 614.5,455.8 618.5,457.5 622.5,458.8 626.5,459.7 630.5,460.1 634.5,460.1 638.5,459.7 642.5,459.1 646.5,458.8 650.5,458.8 654.5,459.1 658.5,459.7 662.5,460.1 666.5,460.7 670.5,461.1 674.5,461.1 678.5,460.7 682.5,459.7 686.5,458.8 690.5,457.8 694.5,456.5 698.5,455.5 702.5,453.5 706.5,452.2 710.5,451.2 714.5,450.5 718.5,448.9 722.5,447.6 726.5,446.5 730.5,445.6 734.5,444.7 738.5,443.7 742.5,443.7 746.5,443.7 750.5,444.7 754.5,445.9 758.5,445.9 762.5,446.5 766.5,445.9 770.5,445.6 774.5,443.7 778.5,442.6 782.5,440.6 786.5,439.7 790.5,438.6 794.5,437.7 798.5,437.7 802.5,437.7 806.5,439.7 810.5,440.6 814.5,442.6 818.5,444.7 822.5,445.9 826.5,447.6 830.5,449.6 834.5,450.9 838.5,451.6 842.5,452.6 846.5,454.2 850.5,455.5 854.5,456.8 858.5,458.8 862.5,461.1 866.5,462.8 870.5,464.5 874.5,466.3 878.5,468.1 882.5,468.7 886.5,468.7 890.5,468.7 894.5,468.7 898.5,469.8 902.5,469.8 906.5,469.8 910.5,469.8 914.5,470.7 918.5,472.4 922.5,474.3 926.5,476.5" fill="none" stroke="#ff0000" stroke-width="1"/>
<line x1="7" y1="520.5" x2="1168" y2="520.5" stroke="#c0c0c0" stroke-width="1" stroke-dasharray="3,3"/><line x1="7" y1="553.5" x2="1168" y2="553.5" stroke="#c0c0c0" stroke-width="1" stroke-dasharray="3,3"/><polyline points="6.5,546.0 10.5,542.4 14.5,537.1 18.5,534.7 22.5,538.5 26.5,541.0 30.5,547.9 34.5,547.0 38.5,544.0 42.5,539.5 46.5,534.1 50.5,529.7 54.5,528.5 58.5,523.2 62.5,519.8 66.5,518.7 70.5,524.8 74.5,523.8 78.5,525.2 82.5,532.1 86.5,539.5 90.5,542.0 94.5,538.0 98.5,542.0 102.5,539.5 106.5,532.5 110.5,528.5 114.5,525.2 118.5,522.8 122.5,523.8 126.5,524.2 130.5,525.8 134.5,525.8 138.5,525.8 142.5,535.7 146.5,537.1 150.5,539.5 154.5,539.0 158.5,547.0 162.5,546.0 166.5,547.0 170.5,547.0 174.5,539.0 178.5,539.0 182.5,540.0 186.5,537.1 190.5,538.5 194.5,545.0 198.5,542.4 202.5,543.0 206.5,543.0 210.5,544.0 214.5,544.0 218.5,550.3 222.5,552.9 226.5,549.9 230.5,553.5 234.5,551.5 238.5,548.9 242.5,547.9 246.5,548.9 250.5,555.9 254.5,547.3 258.5,547.0 262.5,536.1 266.5,535.7 270.5,532.1 274.5,535.1 278.5,533.7 282.5,536.1 286.5,535.1 290.5,539.0 294.5,543.0 298.5,547.0 302.5,547.9 306.5,547.0 310.5,547.9 314.5,547.9 318.5,547.0 322.5,547.9 326.5,538.0 330.5,538.0 334.5,543.0 338.5,544.5 342.5,546.0 346.5,548.9 350.5,554.5 354.5,555.9 358.5,556.8 362.5,556.8 366.5,545.5 370.5,543.5 374.5,543.0 378.5,544.5 382.5,539.5 386.5,541.5 390.5,547.0 394.5,537.1 398.5,536.7 402.5,538.0 406.5,545.0 410.5,538.0 414.5,537.7 418.5,540.0 422.5,544.0 426.5,542.0 430.5,544.5 434.5,544.0 438.5,547.9 442.5,548.9 446.5,548.9 450.5,548.9 454.5,551.9 458.5,547.9 462.5,545.0 466.5,538.5 470.5,541.0 474.5,539.5 478.5,539.0 482.5,544.0 486.5,539.5 490.5,533.7 494.5,531.7 498.5,532.1 502.5,534.1 506.5,532.7 510.5,527.2 514.5,522.2 518.5,520.8 522.5,520.8 526.5,523.8 530.5,525.2 534.5,529.1 538.5,532.1 542.5,535.1 546.5,535.1 550.5,532.7 554.5,530.1 558.5,528.8 562.5,525.2 566.5,523.6 570.5,524.2 574.5,526.2 578.5,539.5 582.5,540.0 586.5,544.0 590.5,547.0 594.5,547.0 598.5,544.0 602.5,547.0 606.5,547.0 610.5,547.9 614.5,538.5 618.5,537.5 622.5,535.1 626.5,535.1 630.5,537.1 634.5,536.1 638.5,541.5 642.5,543.0 646.5,544.5 650.5,545.0 654.5,547.0 658.5,546.0 662.5,541.0 666.5,542.5 670.5,532.7 674.5,531.1 678.5,531.1 682.5,530.1 686.5,537.5 690.5,537.5 694.5,534.7 698.5,531.1 702.5,532.7 706.5,527.8 710.5,525.2 714.5,528.2 718.5,526.2 722.5,523.8 726.5,530.5 730.5,532.7 734.5,537.5 738.5,541.0 742.5,537.1 746.5,537.1 750.5,538.0 754.5,535.1 758.5,525.8 762.5,523.8 766.5,521.2 770.5,519.6 774.5,521.2 778.5,524.2 782.5,532.1 786.5,531.7 790.5,529.1 794.5,537.1 798.5,539.5 802.5,542.0 806.5,540.5 810.5,538.5 814.5,536.7 818.5,538.5 822.5,533.7 826.5,535.7 830.5,543.0 834.5,543.0 838.5,545.0 842.5,542.0 846.5,545.0 850.5,548.9 854.5,550.9 858.5,549.9 862.5,551.9 866.5,553.3 870.5,552.9 874.5,544.0 878.5,536.7 882.5,536.1 886.5,541.0 890.5,543.0 894.5,547.9 898.5,549.9 902.5,551.9 906.5,553.3 910.5,554.9 914.5,555.9 918.5,556.8 922.5,560.8 926.5,561.2" fill="none" stroke="#1e90ff" stroke-width="1"/>
</g>
<g shape-rendering="crispEdges"><rect x="5" y="25" width="1164" height="1" fill="#000"/><rect x="5" y="422" width="1164" height="1" fill="#000"/><rect x="5" y="25" width="1" height="398" fill="#000"/><rect x="1168" y="25" width="1" height="398" fill="#000"/><rect x="5" y="424" width="1164" height="1" fill="#000"/><rect x="5" y="492" width="1164" height="1" fill="#000"/><rect x="5" y="424" width="1" height="69" fill="#000"/><rect x="1168" y="424" width="1" height="69" fill="#000"/><rect x="5" y="494" width="1164" height="1" fill="#000"/><rect x="5" y="578" width="1164" height="1" fill="#000"/><rect x="5" y="494" width="1" height="85" fill="#000"/><rect x="1168" y="494" width="1" height="85" fill="#000"/><rect x="5" y="121" width="6" height="6" fill="#ff0000"/><rect x="7" y="123" width="2" height="2" fill="#fff"/><rect x="1162" y="121" width="6" height="6" fill="#ff0000"/><rect x="1164" y="123" width="2" height="2" fill="#fff"/><rect x="5" y="175" width="6" height="6" fill="#ff0000"/><rect x="7" y="177" width="2" height="2" fill="#fff"/><rect x="1162" y="175" width="6" height="6" fill="#ff0000"/><rect x="1164" y="177" width="2" height="2" fill="#fff"/><rect x="5" y="237" width="6" height="6" fill="#ff0000"/><rect x="7" y="239" width="2" height="2" fill="#fff"/><rect x="1162" y="237" width="6" height="6" fill="#ff0000"/><rect x="1164" y="239" width="2" height="2" fill="#fff"/><rect x="5" y="300" width="6" height="6" fill="#00ff00"/><rect x="7" y="302" width="2" height="2" fill="#fff"/><rect x="1162" y="300" width="6" height="6" fill="#00ff00"/><rect x="1164" y="302" width="2" height="2" fill="#fff"/><rect x="5" y="374" width="6" height="6" fill="#0000ff"/><rect x="7" y="376" width="2" height="2" fill="#fff"/><rect x="1162" y="374" width="6" height="6" fill="#0000ff"/><rect x="1164" y="376" width="2" height="2" fill="#fff"/><rect x="1169" y="56" width="2" height="1" fill="#000"/><rect x="1169" y="89" width="2" height="1" fill="#000"/><rect x="1169" y="122" width="2" height="1" fill="#000"/><rect x="1169" y="155" width="2" height="1" fill="#000"/><rect x="1169" y="188" width="2" height="1" fill="#000"/><rect x="1169" y="221" width="2" height="1" fill="#000"/><rect x="1169" y="254" width="2" height="1" fill="#000"/><rect x="1169" y="287" width="2" height="1" fill="#000"/><rect x="1169" y="320" width="2" height="1" fill="#000"/><rect x="1169" y="353" width="2" height="1" fill="#000"/><rect x="1169" y="386" width="2" height="1" fill="#000"/><rect x="1169" y="419" width="2" height="1" fill="#000"/><rect x="1169" y="426" width="1" height="1" fill="#000"/><rect x="1169" y="454" width="1" height="1" fill="#000"/><rect x="1169" y="491" width="1" height="1" fill="#000"/><rect x="1169" y="496" width="1" height="1" fill="#000"/><rect x="1169" y="577" width="1" height="1" fill="#000"/><rect x="6" y="579" width="1" height="3" fill="#000"/><rect x="70" y="579" width="1" height="3" fill="#000"/><rect x="134" y="579" width="1" height="3" fill="#000"/><rect x="198" y="579" width="1" height="3" fill="#000"/><rect x="262" y="579" width="1" height="3" fill="#000"/><rect x="326" y="579" width="1" height="3" fill="#000"/><rect x="390" y="579" width="1" height="3" fill="#000"/><rect x="454" y="579" width="1" height="3" fill="#000"/><rect x="518" y="579" width="1" height="3" fill="#000"/><rect x="582" y="579" width="1" height="3" fill="#000"/><rect x="646" y="579" width="1" height="3" fill="#000"/><rect x="710" y="579" width="1" height="3" fill="#000"/><rect x="774" y="579" width="1" height="3" fill="#000"/><rect x="838" y="579" width="1" height="3" fill="#000"/><rect x="902" y="579" width="1" height="3" fill="#000"/></g>
<text transform="rotate(0.03 1174 127)" x="1174" y="127" textLength="33" lengthAdjust="spacingAndGlyphs" fill="#fff" class="s w">1.12858</text><text transform="rotate(0.03 1174 181)" x="1174" y="181" textLength="33" lengthAdjust="spacingAndGlyphs" fill="#fff" class="s w">1.12003</text><text transform="rotate(0.03 1174 243)" x="1174" y="243" textLength="33" lengthAdjust="spacingAndGlyphs" fill="#fff" class="s w">1.11002</text><text transform="rotate(0.03 1174 306)" x="1174" y="306" textLength="33" lengthAdjust="spacingAndGlyphs" fill="#fff" class="s w">1.10003</text><text transform="rotate(0.03 1174 380)" x="1174" y="380" textLength="33" lengthAdjust="spacingAndGlyphs" fill="#fff" class="s w">1.08828</text><text transform="rotate(0.03 1174 411)" x="1174" y="411" textLength="33" lengthAdjust="spacingAndGlyphs" fill="#fff" class="s w">1.08355</text>
<text transform="rotate(0.03 1174 60)" x="1174" y="60" textLength="33" lengthAdjust="spacingAndGlyphs" class="s">1.13940</text><text transform="rotate(0.03 1174 93)" x="1174" y="93" textLength="33" lengthAdjust="spacingAndGlyphs" class="s">1.13415</text><text transform="rotate(0.03 1174 159)" x="1174" y="159" textLength="33" lengthAdjust="spacingAndGlyphs" class="s">1.12365</text><text transform="rotate(0.03 1174 192)" x="1174" y="192" textLength="33" lengthAdjust="spacingAndGlyphs" class="s">1.11840</text><text transform="rotate(0.03 1174 225)" x="1174" y="225" textLength="33" lengthAdjust="spacingAndGlyphs" class="s">1.11315</text><text transform="rotate(0.03 1174 258)" x="1174" y="258" textLength="33" lengthAdjust="spacingAndGlyphs" class="s">1.10790</text><text transform="rotate(0.03 1174 291)" x="1174" y="291" textLength="33" lengthAdjust="spacingAndGlyphs" class="s">1.10265</text><text transform="rotate(0.03 1174 324)" x="1174" y="324" textLength="33" lengthAdjust="spacingAndGlyphs" class="s">1.09740</text><text transform="rotate(0.03 1174 357)" x="1174" y="357" textLength="33" lengthAdjust="spacingAndGlyphs" class="s">1.09215</text><text transform="rotate(0.03 1174 390)" x="1174" y="390" textLength="33" lengthAdjust="spacingAndGlyphs" class="s">1.08690</text><text transform="rotate(0.03 1174 423)" x="1174" y="423" textLength="33" lengthAdjust="spacingAndGlyphs" class="s">1.08165</text><text transform="rotate(0.03 1172 435)" x="1172" y="435" textLength="38" lengthAdjust="spacingAndGlyphs" class="s">0.004679</text><text transform="rotate(0.03 1172 458)" x="1172" y="458" textLength="18" lengthAdjust="spacingAndGlyphs" class="s">0.00</text><text transform="rotate(0.03 1172 489)" x="1172" y="489" textLength="36" lengthAdjust="spacingAndGlyphs" class="s">-0.00634</text><text transform="rotate(0.03 1172 505)" x="1172" y="505" textLength="14" lengthAdjust="spacingAndGlyphs" class="s">100</text><text transform="rotate(0.03 1172 524)" x="1172" y="524" textLength="9.5" lengthAdjust="spacingAndGlyphs" class="s">70</text><text transform="rotate(0.03 1172 557)" x="1172" y="557" textLength="9.5" lengthAdjust="spacingAndGlyphs" class="s">30</text><text transform="rotate(0.03 1172 575)" x="1172" y="575" textLength="4.6" lengthAdjust="spacingAndGlyphs" class="s">0</text>
<text transform="rotate(0.03 5 591)" x="5" y="591" textLength="54.8" lengthAdjust="spacingAndGlyphs" class="s">22 May 2019</text><text transform="rotate(0.03 69 591)" x="69" y="591" textLength="50.3" lengthAdjust="spacingAndGlyphs" class="s">10 Jun 2019</text><text transform="rotate(0.03 133 591)" x="133" y="591" textLength="50.3" lengthAdjust="spacingAndGlyphs" class="s">28 Jun 2019</text><text transform="rotate(0.03 197 591)" x="197" y="591" textLength="46.3" lengthAdjust="spacingAndGlyphs" class="s">17 Jul 2019</text><text transform="rotate(0.03 261 591)" x="261" y="591" textLength="47.8" lengthAdjust="spacingAndGlyphs" class="s">5 Aug 2019</text><text transform="rotate(0.03 325 591)" x="325" y="591" textLength="52.3" lengthAdjust="spacingAndGlyphs" class="s">23 Aug 2019</text><text transform="rotate(0.03 389 591)" x="389" y="591" textLength="51.8" lengthAdjust="spacingAndGlyphs" class="s">11 Sep 2019</text><text transform="rotate(0.03 453 591)" x="453" y="591" textLength="51.3" lengthAdjust="spacingAndGlyphs" class="s">30 Sep 2019</text><text transform="rotate(0.03 517 591)" x="517" y="591" textLength="49.3" lengthAdjust="spacingAndGlyphs" class="s">18 Oct 2019</text><text transform="rotate(0.03 581 591)" x="581" y="591" textLength="49.3" lengthAdjust="spacingAndGlyphs" class="s">6 Nov 2019</text><text transform="rotate(0.03 645 591)" x="645" y="591" textLength="53.5" lengthAdjust="spacingAndGlyphs" class="s">25 Nov 2019</text><text transform="rotate(0.03 709 591)" x="709" y="591" textLength="52" lengthAdjust="spacingAndGlyphs" class="s">13 Dec 2019</text><text transform="rotate(0.03 773 591)" x="773" y="591" textLength="45" lengthAdjust="spacingAndGlyphs" class="s">1 Jan 2020</text><text transform="rotate(0.03 837 591)" x="837" y="591" textLength="49.5" lengthAdjust="spacingAndGlyphs" class="s">20 Jan 2020</text><text transform="rotate(0.03 901 591)" x="901" y="591" textLength="46" lengthAdjust="spacingAndGlyphs" class="s">7 Feb 2020</text>
<text transform="rotate(0.03 10.4 437)" x="10.4" y="437" textLength="153.2" lengthAdjust="spacingAndGlyphs" class="s">MACD(12,26,9) -0.005839 -0.003906</text><text transform="rotate(0.03 10.3 507)" x="10.3" y="507" textLength="67.3" lengthAdjust="spacingAndGlyphs" class="s">RSI(14) 20.8667</text><path d="M9,36 L16,36 L12.5,32 Z" fill="#000"/><text transform="rotate(0.03 21.6 37)" x="21.6" y="37" textLength="63.1" lengthAdjust="spacingAndGlyphs" class="s">EURUSD,Daily</text><text transform="rotate(0.03 91.6 37)" x="91.6" y="37" textLength="140.2" lengthAdjust="spacingAndGlyphs" class="s">1.08478 1.08534 1.08267 1.08355</text>
<text x="19.5" y="615.5" textLength="80.3" lengthAdjust="spacingAndGlyphs" class="tab" style="fill:#000">EURUSD,Daily</text><text x="122.7" y="615.5" textLength="82.1" lengthAdjust="spacingAndGlyphs" class="tab">AUDUSD,Daily</text><text x="226" y="615.5" textLength="78.8" lengthAdjust="spacingAndGlyphs" class="tab">USDCHF,Daily</text><text x="327" y="615.5" textLength="79.8" lengthAdjust="spacingAndGlyphs" class="tab">USDCAD,Daily</text><text x="428.5" y="615.5" textLength="84.3" lengthAdjust="spacingAndGlyphs" class="tab">USDCNH,Daily</text><text x="534" y="615.5" textLength="80.8" lengthAdjust="spacingAndGlyphs" class="tab">XAUUSD,Daily</text><text x="638" y="615.5" textLength="45.8" lengthAdjust="spacingAndGlyphs" class="tab">DJ30,H4</text><text x="706" y="615.5" textLength="73.8" lengthAdjust="spacingAndGlyphs" class="tab">USDOil,Daily</text><text x="802" y="615.5" textLength="78.8" lengthAdjust="spacingAndGlyphs" class="tab">USDCHF,Daily</text><text x="903" y="615.5" textLength="80.8" lengthAdjust="spacingAndGlyphs" class="tab">GBPUSD,Daily</text><text x="1007" y="615.5" textLength="66.3" lengthAdjust="spacingAndGlyphs" class="tab">EURUSD,H1</text><text x="1098.7" y="615.5" textLength="68.1" lengthAdjust="spacingAndGlyphs" class="tab">GBPAUD,H1</text><rect x="215" y="604" width="1" height="14" fill="#505050"/><rect x="316" y="604" width="1" height="14" fill="#505050"/><rect x="419" y="604" width="1" height="14" fill="#505050"/><rect x="523" y="604" width="1" height="14" fill="#505050"/><rect x="627" y="604" width="1" height="14" fill="#505050"/><rect x="695" y="604" width="1" height="14" fill="#505050"/><rect x="791" y="604" width="1" height="14" fill="#505050"/><rect x="892" y="604" width="1" height="14" fill="#505050"/><rect x="995" y="604" width="1" height="14" fill="#505050"/><rect x="1086" y="604" width="1" height="14" fill="#505050"/><path d="M1187,607 L1187,613.6 L1183.4,610.3 Z" fill="#a0a0a0"/><path d="M1203,607 L1203,613.6 L1206.6,610.3 Z" fill="#000"/>
<text transform="rotate(0.03 -4 13)" x="-4" y="13" textLength="11.6" lengthAdjust="spacingAndGlyphs" class="tb">15</text><text transform="rotate(0.03 17.8 13)" x="17.8" y="13" textLength="17.4" lengthAdjust="spacingAndGlyphs" class="tb">M30</text><text transform="rotate(0.03 47.8 12)" x="47.8" y="12" textLength="11.4" lengthAdjust="spacingAndGlyphs" class="tb" style="fill:#000">H1</text><text transform="rotate(0.03 75.5 13)" x="75.5" y="13" textLength="12.4" lengthAdjust="spacingAndGlyphs" class="tb">H4</text><text transform="rotate(0.03 104.7 13)" x="104.7" y="13" textLength="11.7" lengthAdjust="spacingAndGlyphs" class="tb">D1</text><text transform="rotate(0.03 131.9 13)" x="131.9" y="13" textLength="14.3" lengthAdjust="spacingAndGlyphs" class="tb">W1</text><text transform="rotate(0.03 158.6 13)" x="158.6" y="13" textLength="14.6" lengthAdjust="spacingAndGlyphs" class="tb">MN</text>
</svg>

<!-- one click trading panel -->
<div class="abs" style="left:7px;top:43px;width:223px;height:68px;background:#fff;"></div>
<div class="abs pb" style="left:9px;top:45px;width:52px;height:24px;background:linear-gradient(#5a5af4,#3e3ae4);border-width:1px 1px 0 1px;"></div>
<div class="abs pb" style="left:176px;top:45px;width:52px;height:24px;background:linear-gradient(#5a5af4,#3e3ae4);border-width:1px 1px 0 1px;"></div>
<div class="abs pb" style="left:9px;top:69px;width:109px;height:40px;background:linear-gradient(#3c38e2,#1c18c8 45%,#0400a6);border-width:0 1px 1px 1px;"></div>
<div class="abs" style="left:118px;top:69px;width:2px;height:40px;background:#fff;"></div>
<div class="abs pb" style="left:120px;top:69px;width:108px;height:40px;background:linear-gradient(#3c38e2,#1c18c8 45%,#0400a6);border-width:0 1px 1px 1px;"></div>
<div class="abs" style="left:60px;top:69px;width:58px;height:1px;background:#0a0aa0;"></div>
<div class="abs" style="left:120px;top:69px;width:57px;height:1px;background:#0a0aa0;"></div>
<div class="abs" style="left:13px;top:68px;width:44px;height:1px;background:#00008c;"></div>
<div class="abs" style="left:13px;top:69px;width:44px;height:1px;background:#7c7cff;"></div>
<div class="abs" style="left:180px;top:68px;width:44px;height:1px;background:#00008c;"></div>
<div class="abs" style="left:180px;top:69px;width:44px;height:1px;background:#7c7cff;"></div>
<!-- spinner -->
<div class="abs" style="left:63px;top:45px;width:109px;height:20px;background:#fff;border:1px solid #a8a8a8;"></div>
<div class="abs" style="left:65px;top:47px;width:19px;height:18px;background:linear-gradient(#ececec,#cfcfcf);"></div>
<div class="abs" style="left:84px;top:46px;width:1px;height:20px;background:#b4b4b4;"></div>
<div class="abs" style="left:153px;top:47px;width:19px;height:18px;background:linear-gradient(#ececec,#cfcfcf);"></div>
<div class="abs" style="left:152px;top:46px;width:1px;height:20px;background:#b4b4b4;"></div>
<svg class="abs" style="left:0;top:0" width="240" height="110" viewBox="0 0 240 110">
<path d="M71,54 L77,54 L74,57.5 Z" fill="#5a6cc0"/>
<path d="M159,57 L165,57 L162,53.5 Z" fill="#5a6cc0"/>
<text x="21.6" y="61" textLength="25.4" lengthAdjust="spacingAndGlyphs" font-size="12.5" fill="#fff">SELL</text>
<text x="189.7" y="61" textLength="23.5" lengthAdjust="spacingAndGlyphs" font-size="12.5" fill="#fff">BUY</text>
<text x="125.7" y="59.7" textLength="23.2" lengthAdjust="spacingAndGlyphs" font-size="11.5" fill="#000">5.00</text>
<text x="29.5" y="99.7" textLength="23.7" lengthAdjust="spacingAndGlyphs" font-size="11.5" font-weight="bold" fill="#fff">1.08</text>
<text x="139.5" y="99.7" textLength="23.7" lengthAdjust="spacingAndGlyphs" font-size="11.5" font-weight="bold" fill="#fff">1.08</text>
<defs><linearGradient id="pg" gradientUnits="userSpaceOnUse" x1="0" y1="69" x2="0" y2="109"><stop offset="0" stop-color="#3c38e2"/><stop offset=".45" stop-color="#1c18c8"/><stop offset="1" stop-color="#0400a6"/></linearGradient></defs>
<text x="56.6" y="100.2" textLength="34.8" lengthAdjust="spacingAndGlyphs" font-size="35" fill="#fff" stroke="url(#pg)" stroke-width="0.9">35</text>
<text x="167.6" y="100.2" textLength="35.8" lengthAdjust="spacingAndGlyphs" font-size="35" fill="#fff" stroke="url(#pg)" stroke-width="0.9">37</text>
<text x="96.4" y="83.8" textLength="6.8" lengthAdjust="spacingAndGlyphs" font-size="11.5" font-weight="bold" fill="#fff">5</text>
<text x="207.4" y="83.8" textLength="6.4" lengthAdjust="spacingAndGlyphs" font-size="11.5" font-weight="bold" fill="#fff">2</text>
</svg>
</body></html>
